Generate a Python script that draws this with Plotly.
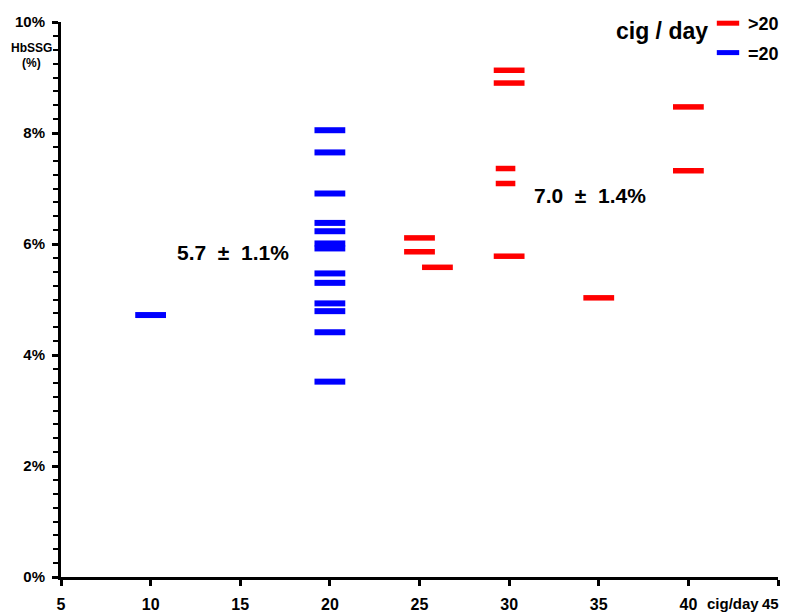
import plotly.graph_objects as go

# ---- data ----
blue_x = [10, 20, 20, 20, 20, 20, 20, 20, 20, 20, 20, 20, 20, 20]
blue_y = [4.72, 8.05, 7.65, 6.91, 6.38, 6.23, 6.01, 5.92, 5.47, 5.30, 4.93, 4.79, 4.41, 3.52]

red_x = [25, 25, 26, 30, 30, 29.8, 29.8, 30, 35, 40, 40]
red_y = [6.11, 5.86, 5.58, 9.13, 8.90, 7.36, 7.09, 5.78, 5.03, 8.47, 7.32]
red_w = [22, 22, 22, 22, 22, 14, 14, 22, 22, 22, 22]

x_ticks = [5, 10, 15, 20, 25, 30, 35, 40, 45]
x_ticktext = ["5", "10", "15", "20", "25", "30", "35", "40", ""]
last_x_label = "45"
y_ticks = [0, 2, 4, 6, 8, 10]
y_ticktext = ["0%", "2%", "4%", "6%", "8%", "10%"]

group_labels = ["5.7  ±  1.1%", "7.0  ±  1.4%"]
group_label_x = [14.6, 34.5]
group_label_y = [5.85, 6.88]

FONT = "Liberation Sans, Arial, sans-serif"

fig = go.Figure()
fig.add_trace(go.Scatter(
    x=red_x, y=red_y, mode="markers", name=">20", legendgroup="a",
    marker=dict(symbol="line-ew", size=red_w, color="#FF0000", opacity=1,
                line=dict(color="#FF0000", width=5.5)),
    hoverinfo="x+y",
))
fig.add_trace(go.Scatter(
    x=blue_x, y=blue_y, mode="markers", name="=20", legendgroup="b",
    marker=dict(symbol="line-ew", size=22, color="#0000FF", opacity=1,
                line=dict(color="#0000FF", width=6)),
    hoverinfo="x+y",
))

for t, x, y in zip(group_labels, group_label_x, group_label_y):
    fig.add_annotation(x=x, y=y, text=t, showarrow=False,
                       font=dict(family=FONT, size=21, color="black", weight="bold"))

bold = lambda s: dict(family=FONT, size=s, color="black", weight="bold")

fig.add_annotation(x=42.48, y=0, xref="x", yref="paper", xanchor="center", yanchor="middle",
                   yshift=-26, text="cig/day", showarrow=False, font=bold(15))
fig.add_annotation(x=45, y=0, xref="x", yref="paper", xanchor="right", yanchor="middle",
                   yshift=-26, xshift=3, text=last_x_label, showarrow=False, font=bold(15))
fig.add_annotation(x=(662 - 61) / 717, y=(577 - 31) / 555, xref="paper", yref="paper",
                   xanchor="center", yanchor="middle",
                   text="cig / day", showarrow=False, font=bold(23))
fig.add_annotation(x=-0.0418, y=0.9526, xref="paper", yref="paper", text="HbSSG",
                   xanchor="center", yanchor="middle", showarrow=False, font=bold(12))
fig.add_annotation(x=-0.0418, y=0.9256, xref="paper", yref="paper", text="(%)",
                   xanchor="center", yanchor="middle", showarrow=False, font=bold(12))

# the page body has an 8px margin, so the figure is sized/margined to compensate
fig.update_layout(
    width=782, height=605,
    margin=dict(l=53, r=12, t=14, b=36, autoexpand=False),
    paper_bgcolor="white", plot_bgcolor="white",
    showlegend=True,
    legend=dict(x=(708 - 61) / 717, y=(577 - 5) / 555, xref="paper", yref="paper",
                xanchor="left", yanchor="top",
                font=bold(18),
                bgcolor="rgba(0,0,0,0)", itemsizing="trace", tracegroupgap=3),
    xaxis=dict(range=[5, 45], tickvals=x_ticks, ticktext=x_ticktext, automargin=False,
               showgrid=False, zeroline=False, showline=True, linecolor="black",
               linewidth=3, ticks="outside", ticklen=6, tickwidth=2.5, tickcolor="black",
               ticklabelstandoff=5, tickfont=bold(16)),
    yaxis=dict(range=[0, 10], tickvals=y_ticks, ticktext=y_ticktext, automargin=False,
               showgrid=False, zeroline=False, showline=True, linecolor="black",
               linewidth=3, ticks="outside", ticklen=6, tickwidth=2.5, tickcolor="black",
               ticklabelstandoff=4, tickfont=bold(15),
               minor=dict(dtick=0.25, ticks="outside", ticklen=5, tickwidth=2,
                          tickcolor="black", showgrid=False)),
)

fig.write_html("out.html")
